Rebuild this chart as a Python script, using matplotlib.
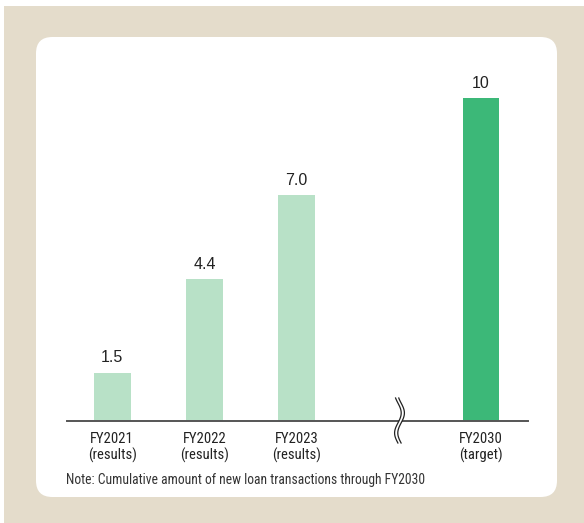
import numpy as np
import matplotlib
matplotlib.use("Agg")
import matplotlib.pyplot as plt
from matplotlib.patches import FancyBboxPatch, Rectangle, Polygon
from matplotlib.lines import Line2D

# Cumulative amount of new loan transactions (values shown above bars)
years = ["FY2021", "FY2022", "FY2023", "FY2030"]
kinds = ["(results)", "(results)", "(results)", "(target)"]
values = [1.5, 4.4, 7.0, 10]
value_labels = ["1.5", "4.4", "7.0", "10"]
note = "Note: Cumulative amount of new loan transactions through FY2030"

W, H = 584, 523
fig = plt.figure(figsize=(W / 100, H / 100), dpi=100)
fig.patch.set_facecolor("white")

def fx(px):
    return px / W

def fy(py):
    return 1 - py / H

BEIGE = "#e4dccb"
LIGHT = "#b8e1c7"
DARK = "#3cb878"
NARROW = ["Roboto Condensed", "Archivo Narrow", "DejaVu Sans"]

# Beige frame and white rounded panel
fig.patches.append(Rectangle((fx(4), 0), 1 - fx(4), fy(6), transform=fig.transFigure,
                             facecolor=BEIGE, edgecolor="none", zorder=0))
panel = FancyBboxPatch((fx(36), fy(497)), fx(557) - fx(36), fy(37) - fy(497),
                       boxstyle="round,pad=0,rounding_size=0.028",
                       transform=fig.transFigure, facecolor="white",
                       edgecolor="none", zorder=1,
                       mutation_aspect=W / H)
fig.patches.append(panel)

# Axes: baseline at y=421 px, 32.3 px per unit
base_py = 421
unit = 32.3
ymax = 11
left_px, right_px = 67, 528
ax = fig.add_axes([fx(left_px), fy(base_py), fx(right_px) - fx(left_px), ymax * unit / H])
ax.set_facecolor("none")
ax.set_zorder(2)

pos = np.array([0, 1, 2, 4])
colors = [LIGHT, LIGHT, LIGHT, DARK]
ax.bar(pos, values, width=0.4, color=colors, zorder=2)
for x, v, lab in zip(pos, values, value_labels):
    ax.text(x, v + 0.22, lab, ha="center", va="bottom", fontsize=11.5,
            family=["Liberation Sans", "DejaVu Sans"], color="#222222")

ax.set_xlim(-0.49, 4.51)
ax.set_ylim(0, ymax)
for s in ["top", "right", "left"]:
    ax.spines[s].set_visible(False)
ax.spines["bottom"].set_color("#555555")
ax.spines["bottom"].set_linewidth(1.4)
ax.set_yticks([])
ax.set_xticks(pos)
ax.set_xticklabels([f"{y}\n{k}" for y, k in zip(years, kinds)],
                   fontsize=10.5, family=NARROW, color="#222222", linespacing=1.1)
ax.tick_params(axis="x", length=0, pad=8)

# Axis break marker: two S-shaped strokes with a white gap between them
py = np.linspace(398, 443, 80)
px = 399.5 + 3.3 * np.sin(2 * np.pi * (py - 403) / 40)
half = 1.6
xl, xr = fx(px - half), fx(px + half)
yv = fy(py)
fig.patches.append(Polygon(np.column_stack([np.r_[xl, xr[::-1]], np.r_[yv, yv[::-1]]]),
                           closed=True, transform=fig.transFigure,
                           facecolor="white", edgecolor="none", zorder=3))
fig.lines.append(Line2D(xl, yv, transform=fig.transFigure, color="#222222", lw=0.9, zorder=4))
fig.lines.append(Line2D(xr, yv, transform=fig.transFigure, color="#222222", lw=0.9, zorder=4))

fig.text(fx(66), fy(480), note, ha="left", va="center", fontsize=9.8,
         family=NARROW, color="#333333", zorder=5)

fig.savefig("out.png", dpi=100)
